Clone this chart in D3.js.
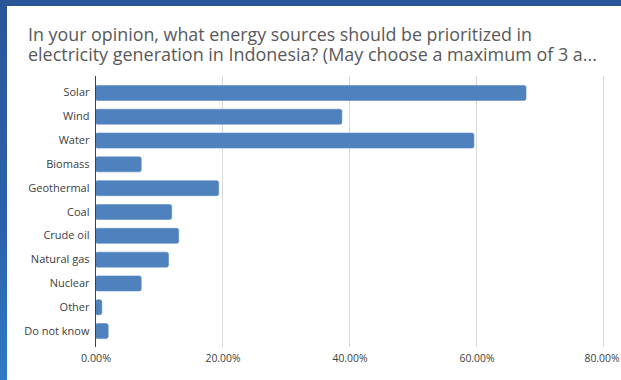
<!DOCTYPE html>
<html><head><meta charset="utf-8">
<script src="https://cdn.jsdelivr.net/npm/d3@7"></script>
<style>html,body{margin:0;padding:0;background:#fff;overflow:hidden}</style>
</head><body>
<script>
const categories = ["Solar","Wind","Water","Biomass","Geothermal","Coal","Crude oil","Natural gas","Nuclear","Other","Do not know"];
const values = [67.8, 38.8, 59.6, 7.2, 19.4, 12.0, 13.1, 11.5, 7.2, 1.0, 2.0];
const xTicks = [0, 20, 40, 60, 80];
const titleLines = ["In your opinion, what energy sources should be prioritized in",
                    "electricity generation in Indonesia? (May choose a maximum of 3 a..."];

const W = 621, H = 380;
const svg = d3.select("body").append("svg").attr("width", W).attr("height", H);
const defs = svg.append("defs");
const g1 = defs.append("linearGradient").attr("id","frame").attr("x1",0).attr("y1",0).attr("x2",0).attr("y2",1);
g1.append("stop").attr("offset","0%").attr("stop-color","#2a5597");
g1.append("stop").attr("offset","60%").attr("stop-color","#2b62ab");
g1.append("stop").attr("offset","100%").attr("stop-color","#3079c6");
svg.append("rect").attr("width",W).attr("height",H).attr("fill","url(#frame)");
svg.append("rect").attr("x",0).attr("y",0).attr("width",W).attr("height",6).attr("fill","#2a5597");
svg.append("rect").attr("x",7).attr("y",6).attr("width",W-7).attr("height",H-6).attr("fill","#ffffff");

const font = "'Open Sans', sans-serif";
const tw = [504, 569];
const title = svg.append("text").attr("font-family",font).attr("font-size",18.5).attr("fill","#595959");
titleLines.forEach((t,i) => {
  title.append("tspan").attr("x",28).attr("y",41 + i*19.5)
    .attr("textLength",tw[i]).attr("lengthAdjust","spacingAndGlyphs")
    .text(t);
});

const x = d3.scaleLinear().domain([0,80]).range([95.5, 603.5]);
const y = d3.scaleBand().domain(categories).range([81, 343]).paddingInner(0.37).paddingOuter(0.185);
const plotTop = 76, plotBot = 347;

// gridlines
svg.append("g").selectAll("line").data(xTicks.slice(1)).join("line")
  .attr("x1",d=>x(d)).attr("x2",d=>x(d)).attr("y1",plotTop).attr("y2",plotBot)
  .attr("stroke","#d9d9d9").attr("stroke-width",1);

// bars
svg.append("g").selectAll("rect").data(values).join("rect")
  .attr("x",x(0)).attr("y",(d,i)=>y(categories[i]))
  .attr("width",d=>x(d)-x(0)).attr("height",y.bandwidth())
  .attr("rx",2).attr("ry",2)
  .attr("fill","#4f81bd").attr("stroke","#5b8ccc").attr("stroke-width",0.6);

// y axis
const yAxis = svg.append("g").attr("transform",`translate(${x(0)},0)`)
  .call(d3.axisLeft(y).tickSize(0).tickPadding(6));
yAxis.select(".domain").remove();
yAxis.selectAll("text").attr("font-family",font).attr("font-size",11).attr("fill","#404040");
svg.append("line").attr("x1",x(0)).attr("x2",x(0)).attr("y1",plotTop).attr("y2",plotBot)
  .attr("stroke","#404040").attr("stroke-width",1);

// x axis
const xAxis = svg.append("g").attr("transform",`translate(0,${plotBot})`)
  .call(d3.axisBottom(x).tickValues(xTicks).tickSize(0).tickPadding(7).tickFormat(d=>d.toFixed(2)+"%"));
xAxis.select(".domain").remove();
xAxis.selectAll("text").attr("font-family",font).attr("font-size",11).attr("fill","#404040")
  .attr("textLength",d => d === 0 ? 30 : 35).attr("lengthAdjust","spacingAndGlyphs");
xAxis.selectAll(".tick").filter(d => d === 80).select("text")
  .attr("text-anchor","end").attr("x", 619 - x(80));
</script>
</body></html>
